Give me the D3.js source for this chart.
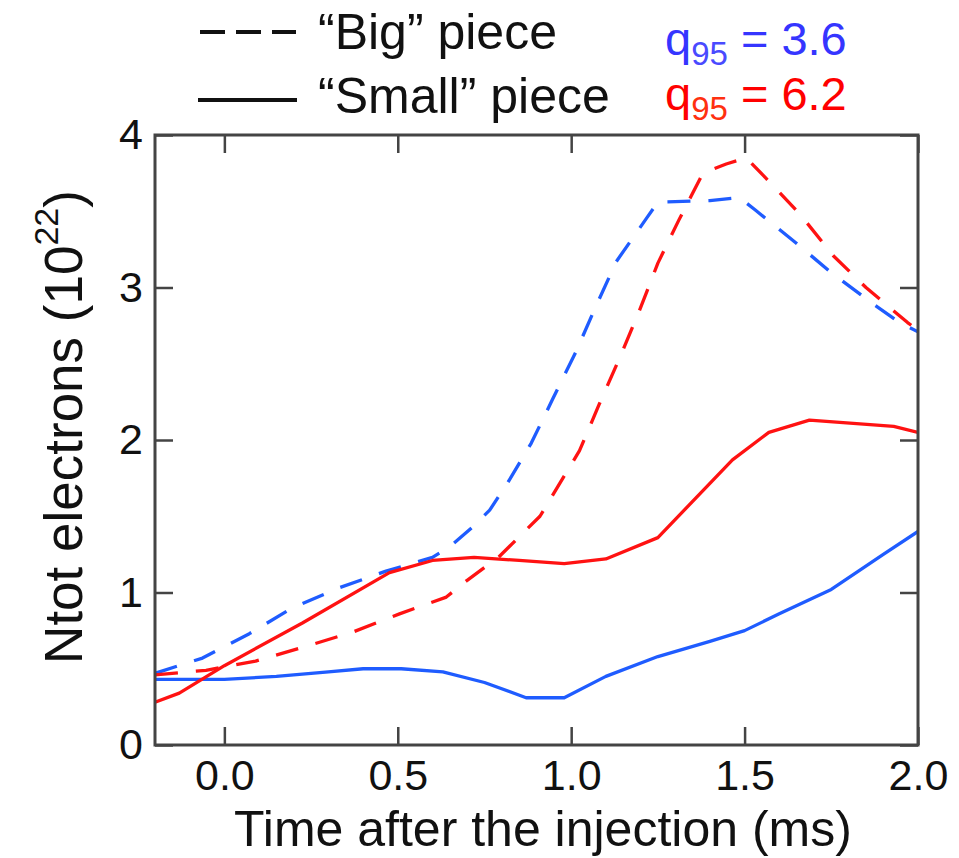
<!DOCTYPE html>
<html><head><meta charset="utf-8">
<script src="https://cdn.jsdelivr.net/npm/d3@7"></script>
<style>body{margin:0;background:#fff}svg{display:block}text{font-family:"Liberation Sans",Arial,sans-serif}</style>
</head><body>
<svg id="c" width="959" height="858"></svg>
<script>
// ---- data ----
const xTicks = [0.0, 0.5, 1.0, 1.5, 2.0];
const yTicks = [0, 1, 2, 3, 4];

const blueSmallT = [-0.2, -0.1, 0.0, 0.15, 0.3, 0.4, 0.51, 0.63, 0.75, 0.87, 0.98, 1.1, 1.25, 1.4, 1.5, 1.6, 1.75, 1.9, 2.0];
const blueSmallY = [0.43, 0.43, 0.43, 0.45, 0.48, 0.50, 0.50, 0.48, 0.41, 0.31, 0.31, 0.45, 0.58, 0.68, 0.75, 0.86, 1.02, 1.25, 1.40];

const redSmallT = [-0.2, -0.13, 0.0, 0.225, 0.476, 0.6, 0.72, 0.85, 0.98, 1.1, 1.25, 1.465, 1.57, 1.687, 1.93, 2.0];
const redSmallY = [0.28, 0.34, 0.52, 0.80, 1.13, 1.21, 1.23, 1.21, 1.19, 1.22, 1.36, 1.87, 2.05, 2.13, 2.09, 2.05];

const blueBigT = [-0.2, -0.063, 0.072, 0.197, 0.33, 0.466, 0.6, 0.65, 0.716, 0.765, 0.817, 0.885, 0.947, 1.014, 1.07, 1.13, 1.216, 1.25, 1.40, 1.485, 1.53, 1.644, 1.754, 1.875, 1.947, 2.0];
const blueBigY = [0.47, 0.57, 0.73, 0.90, 1.03, 1.14, 1.23, 1.30, 1.43, 1.54, 1.72, 1.98, 2.27, 2.58, 2.87, 3.17, 3.45, 3.56, 3.57, 3.59, 3.51, 3.30, 3.09, 2.885, 2.77, 2.71];

const redBigT = [-0.2, -0.053, 0.09, 0.225, 0.37, 0.505, 0.64, 0.70, 0.79, 0.91, 1.024, 1.08, 1.14, 1.197, 1.25, 1.31, 1.346, 1.38, 1.447, 1.505, 1.56, 1.66, 1.755, 1.85, 1.97, 2.0];
const redBigY = [0.46, 0.49, 0.55, 0.64, 0.74, 0.86, 0.97, 1.08, 1.23, 1.50, 1.93, 2.23, 2.54, 2.85, 3.16, 3.44, 3.60, 3.75, 3.81, 3.85, 3.72, 3.48, 3.21, 3.00, 2.77, 2.72];

const BLUE = "#1f5cff", RED = "#ff1212";

// ---- layout ----
const L = 155, R = 918, T = 135, B = 745;
const svg = d3.select("#c");
const x = d3.scaleLinear().domain([-0.2, 2.0]).range([L, R]);
const y = d3.scaleLinear().domain([0, 4]).range([B, T]);

const zip = (ts, ys) => ts.map((t, i) => [t, ys[i]]);
const line = d3.line().x(d => x(d[0])).y(d => y(d[1]));

const series = [
  {d: zip(blueBigT, blueBigY), c: BLUE, dash: "23,18"},
  {d: zip(redBigT, redBigY), c: RED, dash: "23,18"},
  {d: zip(blueSmallT, blueSmallY), c: BLUE, dash: null},
  {d: zip(redSmallT, redSmallY), c: RED, dash: null},
];
svg.append("defs").append("clipPath").attr("id","clip").append("rect")
  .attr("x", L).attr("y", T).attr("width", R-L).attr("height", B-T);
const g = svg.append("g").attr("clip-path","url(#clip)");
series.forEach(s => {
  g.append("path").attr("d", line(s.d)).attr("fill","none")
    .attr("stroke", s.c).attr("stroke-width", 3.3)
    .attr("stroke-dasharray", s.dash).attr("stroke-linejoin","round");
});

// ---- axes ----
const AX = "#444", TL = 18;
function style(sel){
  sel.select(".domain").remove();
  sel.selectAll(".tick line").attr("stroke", AX).attr("stroke-width", 2.5);
  sel.selectAll(".tick text").attr("fill","#111").attr("font-size", 43)
     .attr("font-family","Liberation Sans, Arial, sans-serif");
}
svg.append("g").attr("transform",`translate(0,${B})`)
  .call(d3.axisBottom(x).tickValues(xTicks).tickFormat(d3.format(".1f")).tickSizeInner(-TL).tickSizeOuter(0).tickPadding(14))
  .call(style);
svg.append("g").attr("transform",`translate(0,${T})`)
  .call(d3.axisTop(x).tickValues(xTicks).tickFormat("").tickSizeInner(-TL).tickSizeOuter(0))
  .call(style);
svg.append("g").attr("transform",`translate(${L},0)`)
  .call(d3.axisLeft(y).tickValues(yTicks).tickFormat(d3.format("d")).tickSizeInner(-TL).tickSizeOuter(0).tickPadding(12))
  .call(style);
svg.append("g").attr("transform",`translate(${R},0)`)
  .call(d3.axisRight(y).tickValues(yTicks).tickFormat("").tickSizeInner(-TL).tickSizeOuter(0))
  .call(style);
svg.append("rect").attr("x", L).attr("y", T).attr("width", R-L).attr("height", B-T)
  .attr("fill","none").attr("stroke", AX).attr("stroke-width", 3);

// ---- axis titles ----
svg.append("text").attr("x", 543).attr("y", 846).attr("text-anchor","middle")
  .attr("font-size", 50).attr("fill","#111").text("Time after the injection (ms)");
const yt = svg.append("text").attr("transform","translate(82,427) rotate(-90)")
  .attr("text-anchor","middle").attr("font-size", 53).attr("fill","#111");
yt.append("tspan").text("Ntot electrons (10");
yt.append("tspan").attr("font-size", 34).attr("dy", -24).text("22");
yt.append("tspan").attr("dy", 24).text(")");

// ---- legend ----
svg.append("line").attr("x1",200).attr("x2",296).attr("y1",32).attr("y2",32)
  .attr("stroke","#111").attr("stroke-width",4).attr("stroke-dasharray","25,11");
svg.append("line").attr("x1",198).attr("x2",297).attr("y1",100).attr("y2",100)
  .attr("stroke","#111").attr("stroke-width",4);
svg.append("text").attr("x",318).attr("y",49).attr("font-size",50).attr("fill","#111").text("\u201CBig\u201D piece");
svg.append("text").attr("x",318).attr("y",113).attr("font-size",50).attr("fill","#111").text("\u201CSmall\u201D piece");

function q95(yb, col, sub, val){
  const t = svg.append("text").attr("x",665).attr("y",yb).attr("font-size",47).attr("fill",col);
  t.append("tspan").text("q");
  t.append("tspan").attr("font-size",33).attr("dy",10).attr("fill",sub).text("95");
  t.append("tspan").attr("dy",-10).text(" = " + val);
}
q95(55, "#3535ff", "#4a4aff", "3.6");
q95(110, "#ff0000", "#ff3010", "6.2");
</script>
</body></html>
